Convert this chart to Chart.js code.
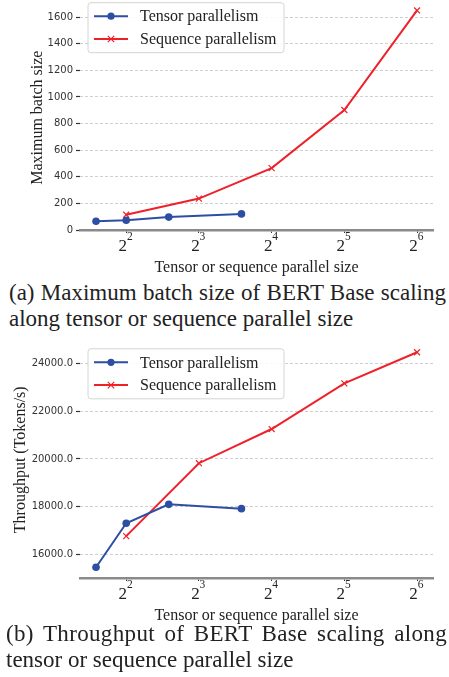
<!DOCTYPE html>
<html>
<head>
<meta charset="utf-8">
<script src="https://cdn.jsdelivr.net/npm/chart.js@4.4.1/dist/chart.umd.min.js"></script>
<style>
  html, body { margin: 0; padding: 0; background: #fff; }
  #wrap { position: relative; width: 449px; height: 677px; overflow: hidden; }
  .box { position: absolute; left: 0; width: 449px; }
  .cap { position: absolute; font-family: "Liberation Serif", "Times New Roman", serif;
         font-size: 23px; line-height: 26px; color: #222; white-space: nowrap; }
  .just { text-align: justify; text-align-last: justify; white-space: normal; }
</style>
</head>
<body>
<div id="wrap">
  <div class="box" style="top:0;height:278px"><canvas id="c1"></canvas></div>
  <div class="cap just" style="left:9px;width:437px;top:280.25px">(a) Maximum batch size of BERT Base scaling</div>
  <div class="cap" style="left:9px;top:306.25px">along tensor or sequence parallel size</div>
  <div class="box" style="top:335.5px;height:290px"><canvas id="c2"></canvas></div>
  <div class="cap just" style="left:6px;width:441px;top:621.25px;letter-spacing:0.35px">(b) Throughput of BERT Base scaling along</div>
  <div class="cap" style="left:6px;top:647.25px">tensor or sequence parallel size</div>
</div>
<script>
// ---- data ----
const tensorSizes = [3, 4, 6, 12];
const sequenceSizes = [4, 8, 16, 32, 64];
const batchTensor = [66, 73, 97, 121];
const batchSequence = [115, 236, 465, 902, 1650];
const throughputTensor = [15470, 17310, 18100, 17920];
const throughputSequence = [16770, 19820, 21250, 23160, 24460];
const xTicks = [4, 8, 16, 32, 64];
const xTickBase = ['2', '2', '2', '2', '2'];
const xTickExponents = ['2', '3', '4', '5', '6'];
const batchTicks = [0, 200, 400, 600, 800, 1000, 1200, 1400, 1600];
const throughputTicks = [16000, 18000, 20000, 22000, 24000];
const seriesNames = ['Tensor parallelism', 'Sequence parallelism'];

const BLUE = '#2c4fa3';
const RED = '#ee2129';
const SERIF = '"Liberation Serif", "Times New Roman", serif';
const SANS = '"DejaVu Sans", sans-serif';

function pts(xs, ys) { return xs.map((x, i) => ({x: x, y: ys[i]})); }

function drawMarker(ctx, style, x, y, r, color) {
  ctx.save();
  ctx.strokeStyle = color; ctx.fillStyle = color;
  if (style === 'circle') {
    ctx.beginPath(); ctx.arc(x, y, r, 0, Math.PI * 2); ctx.fill();
  } else {
    ctx.lineWidth = 1.2;
    ctx.beginPath();
    ctx.moveTo(x - r, y - r); ctx.lineTo(x + r, y + r);
    ctx.moveTo(x + r, y - r); ctx.lineTo(x - r, y + r);
    ctx.stroke();
  }
  ctx.restore();
}

const boxLegend = {
  id: 'boxLegend',
  afterDatasetsDraw(chart, args, opts) {
    const ctx = chart.ctx;
    const x = chart.chartArea.left + 8, y = opts.top, w = 196, h = 50, rad = 3;
    ctx.save();
    ctx.beginPath();
    ctx.moveTo(x + rad, y); ctx.lineTo(x + w - rad, y); ctx.quadraticCurveTo(x + w, y, x + w, y + rad);
    ctx.lineTo(x + w, y + h - rad); ctx.quadraticCurveTo(x + w, y + h, x + w - rad, y + h);
    ctx.lineTo(x + rad, y + h); ctx.quadraticCurveTo(x, y + h, x, y + h - rad);
    ctx.lineTo(x, y + rad); ctx.quadraticCurveTo(x, y, x + rad, y);
    ctx.closePath();
    ctx.fillStyle = 'rgba(255,255,255,0.85)'; ctx.fill();
    ctx.strokeStyle = '#d4d4d4'; ctx.lineWidth = 1; ctx.stroke();
    chart.data.datasets.forEach((ds, i) => {
      const cy = y + 13.5 + i * 22.8;
      ctx.strokeStyle = ds.borderColor; ctx.lineWidth = 2;
      ctx.beginPath(); ctx.moveTo(x + 6, cy); ctx.lineTo(x + 40, cy); ctx.stroke();
      drawMarker(ctx, ds.pointStyle, x + 23, cy, ds.pointStyle === 'circle' ? 3.6 : 3.2, ds.borderColor);
      ctx.fillStyle = '#222'; ctx.font = '16px ' + SERIF; ctx.textBaseline = 'middle'; ctx.textAlign = 'left';
      ctx.fillText(ds.label, x + 52, cy + 1);
    });
    ctx.restore();
  }
};

// draws the exponent part of the 2^n tick labels next to the base drawn by the axis
const exponentLabels = {
  id: 'exponentLabels',
  afterDraw(chart) {
    const ctx = chart.ctx, sx = chart.scales.x;
    ctx.save();
    ctx.fillStyle = '#222'; ctx.font = '11.5px ' + SERIF; ctx.textAlign = 'left'; ctx.textBaseline = 'alphabetic';
    xTicks.forEach((v, i) => {
      const px = sx.getPixelForValue(v);
      ctx.fillText(xTickExponents[i], px + 0.7, sx.top + 9.9);
    });
    ctx.restore();
  }
};

function makeChart(id, tData, sData, yTicks, yMin, yMax, yTitle, yTitlePad, fmt, legendTop, padTop) {
  return new Chart(document.getElementById(id), {
    type: 'line',
    data: {
      datasets: [
        { label: seriesNames[0], data: pts(tensorSizes, tData), borderColor: BLUE, backgroundColor: BLUE,
          borderWidth: 2, pointStyle: 'circle', pointRadius: 3.8, pointBorderWidth: 0, clip: false, tension: 0 },
        { label: seriesNames[1], data: pts(sequenceSizes, sData), borderColor: RED, backgroundColor: RED,
          borderWidth: 2, pointStyle: 'crossRot', pointRadius: 4.2, pointBorderWidth: 1.2, clip: false, tension: 0 }
      ]
    },
    options: {
      responsive: true, maintainAspectRatio: false, animation: false, devicePixelRatio: 1,
      layout: { padding: { top: padTop, right: 16, bottom: 0, left: 0 } },
      plugins: { legend: { display: false }, tooltip: { enabled: false }, boxLegend: { top: legendTop } },
      scales: {
        x: {
          type: 'logarithmic', min: 2.575, max: 74.5,
          afterBuildTicks: s => { s.ticks = xTicks.map(v => ({value: v})); },
          afterFit: s => { s.height = 48; s.paddingLeft = 0; s.paddingRight = 0; },
          ticks: { callback: v => xTickBase[xTicks.indexOf(v)], font: { family: SERIF, size: 17 }, color: '#222',
                   padding: 3.7, labelOffset: -3.5, maxRotation: 0, autoSkip: false },
          grid: { drawOnChartArea: false, drawTicks: true, tickLength: 3, tickColor: '#333', tickWidth: 1 },
          border: { display: true, color: '#8a8a8a', width: 2.5 },
          title: { display: true, text: 'Tensor or sequence parallel size', color: '#222',
                   font: { family: SERIF, size: 16, lineHeight: 1 }, padding: { top: 0, bottom: 2 } }
        },
        y: {
          min: yMin, max: yMax,
          afterBuildTicks: s => { s.ticks = yTicks.map(v => ({value: v})); },
          afterFit: s => { s.width = 80; s.paddingTop = 0; s.paddingBottom = 0; },
          ticks: { callback: fmt, font: { family: SANS, size: 10 }, color: '#333', padding: 3 },
          grid: { color: '#c4c4c4', lineWidth: 0.8, drawTicks: true, tickLength: 4, tickColor: '#333', tickWidth: 1.2,
                  tickBorderDash: [] },
          border: { display: false, dash: [3, 2] },
          title: { display: true, text: yTitle, color: '#222', font: { family: SERIF, size: 16, lineHeight: 1 },
                   padding: { top: yTitlePad, bottom: 0 } }
        }
      }
    },
    plugins: [boxLegend, exponentLabels]
  });
}

makeChart('c1', batchTensor, batchSequence, batchTicks, 0, 1688, 'Maximum batch size', 30,
          v => String(v), 2.7, 0);
makeChart('c2', throughputTensor, throughputSequence, throughputTicks, 15020, 24910, 'Throughput (Tokens/s)', 13,
          v => v.toFixed(1), 12.8, 5.5);
</script>
</body>
</html>
